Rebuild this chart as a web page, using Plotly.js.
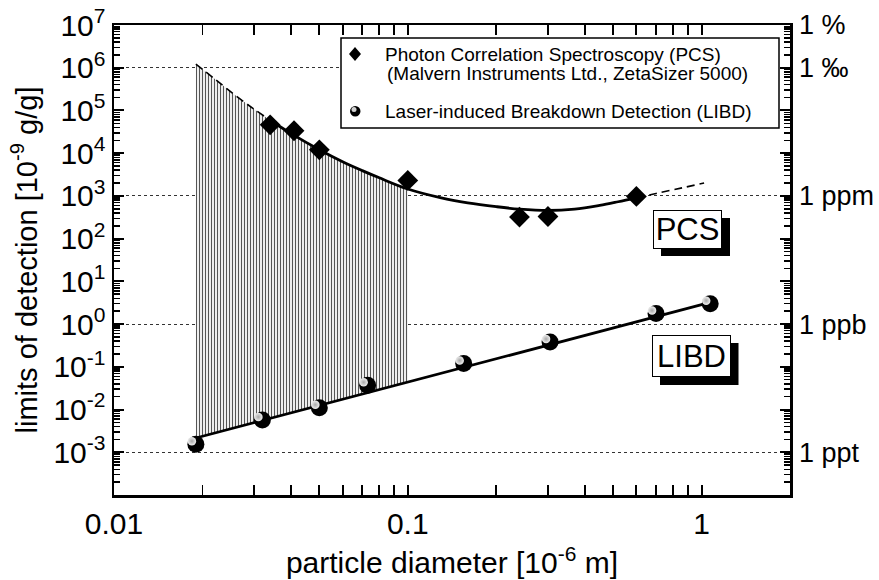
<!DOCTYPE html>
<html>
<head>
<meta charset="utf-8">
<script src="https://cdn.plot.ly/plotly-3.0.1.min.js"></script>
<style>html,body{margin:0;padding:0;background:#fff;}#chart{width:879px;height:580px;}</style>
</head>
<body>
<div id="chart"></div>
<script>
// ---- data ----
const pcsX = [0.034, 0.041, 0.05, 0.1, 0.24, 0.30, 0.60];
const pcsY = [46000, 33500, 12000, 2300, 320, 330, 970];

const libdX = [0.019, 0.032, 0.05, 0.073, 0.155, 0.305, 0.70, 1.07];
const libdY = [0.00155, 0.0057, 0.011, 0.037, 0.12, 0.38, 1.76, 3.0];

// PCS fit curve: dashed extrapolation left, solid fit, dashed extrapolation right
const pcsFitLeftX = [0.019, 0.022, 0.026, 0.030, 0.034];
const pcsFitLeftY = [1.22e6, 5.5e5, 2.2e5, 1.07e5, 5.9e4];
const pcsFitX = [0.034, 0.04, 0.05, 0.06, 0.07, 0.08, 0.1, 0.13, 0.16, 0.2, 0.24, 0.3, 0.37, 0.45, 0.52, 0.6];
const pcsFitY = [5.9e4, 2.9e4, 1.2e4, 6.3e3, 3.9e3, 2.65e3, 1.45e3, 900, 690, 560, 490, 455, 490, 600, 730, 900];
const pcsFitRightX = [0.6, 0.7, 0.85, 1.02];
const pcsFitRightY = [900, 1140, 1520, 2000];

// LIBD linear fit (log-log)
const libdFitX = [0.019, 1.07];
const libdFitY = [0.00216, 3.22];

// hatched overlap region: top follows PCS curve up to 0.1, bottom follows LIBD line
const hatchTopX = [0.019, 0.022, 0.026, 0.030, 0.034, 0.04, 0.05, 0.06, 0.07, 0.08, 0.1];
const hatchTopY = [1.22e6, 5.5e5, 2.2e5, 1.07e5, 5.9e4, 2.9e4, 1.2e4, 6.3e3, 3.9e3, 2.65e3, 1.45e3];
const hatchBottomX = [0.1, 0.019];
const hatchBottomY = [0.0437, 0.00216];

// tick labels
const xTickVals = [0.01, 0.1, 1];
const xTickText = ['0.01', '0.1', '1'];
const yExponents = [-3, -2, -1, 0, 1, 2, 3, 4, 5, 6, 7];
const rightTickVals = [1e7, 1e6, 1e3, 1, 1e-3];
const rightTickText = ['1 %', '1 \u2030', '1 ppm', '1 ppb', '1 ppt'];

const legendText1 = 'Photon Correlation Spectroscopy (PCS)';
const legendText2 = '(Malvern Instruments Ltd., ZetaSizer 5000)';
const legendText3 = 'Laser-induced Breakdown Detection (LIBD)';

// ---- layout geometry ----
const W = 879, H = 580;
const mL = 110, mR = 89, mT = 22, mB = 85;
const PW = W - mL - mR, PH = H - mT - mB;
const sx = 4, sy = 3; // highlight offset in px
const px = v => (v - mL) / PW;
const py = v => (H - mB - v) / PH;

const FONT = 'Liberation Sans, Arial, Helvetica, sans-serif';

const yTickVals = yExponents.map(e => Math.pow(10, e));
const yTickText = yExponents.map(e => '10<sup>' + e + '</sup>');

const xMinor = [];
for (let d = -2; d <= 0; d++) for (let k = 2; k <= 9; k++) { const v = k * Math.pow(10, d); if (v < 2) xMinor.push(v); }
const yMinor = [];
for (let d = -4; d <= 6; d++) for (let k = 2; k <= 9; k++) yMinor.push(k * Math.pow(10, d));

const xRange = [-2, Math.log10(2)];
const yRange = [-4, 7];

const traces = [
  { x: hatchTopX.concat(hatchBottomX), y: hatchTopY.concat(hatchBottomY), type: 'scatter', mode: 'lines',
    fill: 'toself', line: { width: 0, color: 'rgba(0,0,0,0)' }, fillcolor: 'white',
    fillpattern: { shape: '|', size: 3, solidity: 0.4, fgcolor: '#555', bgcolor: 'white' },
    hoverinfo: 'skip', showlegend: false },
  { x: pcsFitLeftX, y: pcsFitLeftY, type: 'scatter', mode: 'lines',
    line: { color: 'black', width: 1.6, dash: '8px,5px', shape: 'spline' }, showlegend: false },
  { x: pcsFitX, y: pcsFitY, type: 'scatter', mode: 'lines',
    line: { color: 'black', width: 2.8, shape: 'spline' }, showlegend: false },
  { x: pcsFitRightX, y: pcsFitRightY, type: 'scatter', mode: 'lines',
    line: { color: 'black', width: 1.6, dash: '8px,5px', shape: 'spline' }, showlegend: false },
  { x: libdFitX, y: libdFitY, type: 'scatter', mode: 'lines',
    line: { color: 'black', width: 2.8 }, showlegend: false },
  { x: pcsX, y: pcsY, type: 'scatter', mode: 'markers', name: 'PCS',
    marker: { symbol: 'diamond', size: 16, color: 'black' }, showlegend: false },
  { x: libdX, y: libdY, type: 'scatter', mode: 'markers', name: 'LIBD',
    marker: { symbol: 'circle', size: 17, color: 'black' }, showlegend: false },
  // invisible carrier so the right-hand axis (labels + dotted grid) is drawn
  { x: libdFitX, y: libdFitY, type: 'scatter', mode: 'lines', yaxis: 'y2',
    line: { width: 0, color: 'rgba(0,0,0,0)' }, hoverinfo: 'skip', showlegend: false },
  // sphere highlights on a sub-plot shifted by a few pixels up-left
  { x: libdX, y: libdY, type: 'scatter', mode: 'markers', xaxis: 'x3', yaxis: 'y3',
    marker: { symbol: 'circle', size: 8.5, color: '#eeeeee', gradient: { type: 'radial', color: '#a8a8a8' }, line: { width: 0 } },
    hoverinfo: 'skip', showlegend: false }
];

const tickFont = { family: FONT, size: 30, color: 'black' };

const layout = {
  width: W, height: H,
  margin: { l: mL, r: mR, t: mT, b: mB, pad: 0 },
  paper_bgcolor: 'white', plot_bgcolor: 'rgba(0,0,0,0)',
  showlegend: false,
  font: { family: FONT, color: 'black' },
  xaxis: {
    type: 'log', range: xRange, domain: [sx / PW, 1],
    tickmode: 'array', tickvals: xTickVals, ticktext: xTickText,
    ticks: 'inside', ticklen: 10, tickwidth: 2, tickcolor: 'black',
    minor: { tickmode: 'array', tickvals: xMinor, ticks: 'inside', ticklen: 6, tickwidth: 1.8, tickcolor: 'black', showgrid: false },
    showline: true, linewidth: 2.5, linecolor: 'black', mirror: 'allticks',
    showgrid: false, zeroline: false, tickfont: tickFont,
    title: { text: 'particle diameter [10<sup>-6</sup> m]', font: { family: FONT, size: 30, color: 'black' }, standoff: 14 },
    anchor: 'y'
  },
  yaxis: {
    type: 'log', range: yRange, domain: [0, 1 - sy / PH],
    tickmode: 'array', tickvals: yTickVals, ticktext: yTickText,
    ticks: 'inside', ticklen: 10, tickwidth: 2, tickcolor: 'black',
    minor: { tickmode: 'array', tickvals: yMinor, ticks: 'inside', ticklen: 6, tickwidth: 1.5, tickcolor: 'black', showgrid: false },
    showline: true, linewidth: 2.5, linecolor: 'black', mirror: 'allticks',
    showgrid: false, zeroline: false, tickfont: tickFont,
    title: { text: 'limits of detection [10<sup>-9</sup> g/g]', font: { family: FONT, size: 29, color: 'black' }, standoff: 8 },
    anchor: 'x'
  },
  yaxis2: {
    type: 'log', range: yRange, overlaying: 'y', side: 'right', anchor: 'x',
    tickmode: 'array', tickvals: rightTickVals, ticktext: rightTickText,
    ticks: '', showline: false, zeroline: false, ticklabelstandoff: 8,
    showgrid: true, gridcolor: '#333', gridwidth: 1, griddash: 'dot',
    tickfont: { family: FONT, size: 27, color: 'black' }
  },
  xaxis3: { type: 'log', range: xRange, domain: [0, 1 - sx / PW], anchor: 'y3', visible: false, showgrid: false, zeroline: false },
  yaxis3: { type: 'log', range: yRange, domain: [sy / PH, 1], anchor: 'x3', visible: false, showgrid: false, zeroline: false },
  shapes: [
    // legend box
    { type: 'rect', xref: 'paper', yref: 'paper', x0: px(341), x1: px(779), y0: py(128), y1: py(38),
      fillcolor: 'white', line: { color: 'black', width: 1.5 }, layer: 'above' },
    // legend diamond
    { type: 'path', xref: 'paper', yref: 'paper', layer: 'above', fillcolor: 'black', line: { width: 0 },
      path: 'M ' + px(355) + ' ' + py(47) + ' L ' + px(361) + ' ' + py(54) + ' L ' + px(355) + ' ' + py(61) + ' L ' + px(349) + ' ' + py(54) + ' Z' },
    // legend sphere
    { type: 'circle', xref: 'paper', yref: 'paper', layer: 'above', fillcolor: 'black', line: { width: 0 },
      x0: px(350), x1: px(360.5), y0: py(116.5), y1: py(106) },
    { type: 'circle', xref: 'paper', yref: 'paper', layer: 'above', fillcolor: '#d0d0d0', line: { width: 0 },
      x0: px(351.5), x1: px(356.5), y0: py(112), y1: py(107) },
    // label shadows
    { type: 'rect', xref: 'paper', yref: 'paper', x0: px(661), x1: px(730), y0: py(256), y1: py(218),
      fillcolor: 'black', line: { width: 0 }, layer: 'above' },
    { type: 'rect', xref: 'paper', yref: 'paper', x0: px(660), x1: px(738.5), y0: py(385), y1: py(343),
      fillcolor: 'black', line: { width: 0 }, layer: 'above' }
  ],
  annotations: [
    { xref: 'paper', yref: 'paper', x: px(383), y: py(54), xanchor: 'left', yanchor: 'middle', showarrow: false,
      text: legendText1, font: { family: FONT, size: 19, color: 'black' } },
    { xref: 'paper', yref: 'paper', x: px(385), y: py(73), xanchor: 'left', yanchor: 'middle', showarrow: false,
      text: legendText2, font: { family: FONT, size: 19, color: 'black' } },
    { xref: 'paper', yref: 'paper', x: px(383), y: py(111), xanchor: 'left', yanchor: 'middle', showarrow: false,
      text: legendText3, font: { family: FONT, size: 19, color: 'black' } },
    { xref: 'paper', yref: 'paper', x: px(687.5), y: py(229.2), xanchor: 'center', yanchor: 'middle', showarrow: false,
      text: 'PCS', font: { family: FONT, size: 31, color: 'black' }, bgcolor: 'white', bordercolor: 'black', borderwidth: 1,
      borderpad: 0, width: 67, height: 37 },
    { xref: 'paper', yref: 'paper', x: px(691.7), y: py(355.8), xanchor: 'center', yanchor: 'middle', showarrow: false,
      text: 'LIBD', font: { family: FONT, size: 31, color: 'black' }, bgcolor: 'white', bordercolor: 'black', borderwidth: 1,
      borderpad: 0, width: 77, height: 40 }
  ]
};

Plotly.newPlot('chart', traces, layout, { displayModeBar: false, staticPlot: true });
</script>
</body>
</html>
